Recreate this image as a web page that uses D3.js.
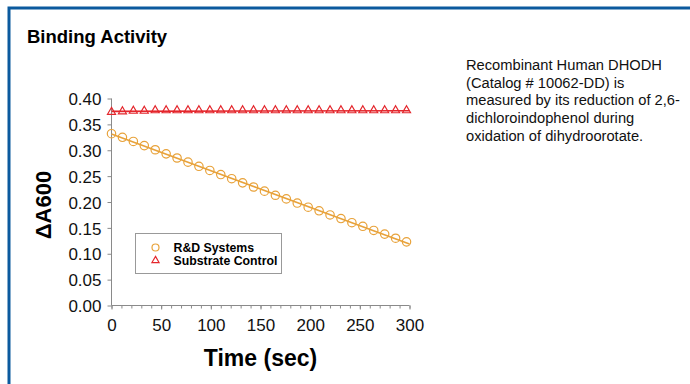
<!DOCTYPE html>
<html>
<head>
<meta charset="utf-8">
<script src="https://cdn.jsdelivr.net/npm/d3@7"></script>
<style>
  html, body { margin: 0; padding: 0; background: #fff; }
  svg { display: block; }
</style>
</head>
<body>
<div id="chart"></div>
<script>
// Time points (sec) and measured absorbance change
const times = [0, 11, 22, 33, 44, 55, 66, 77, 88, 99, 110, 121, 132, 143,
               154, 165, 176, 187, 198, 209, 220, 231, 242, 253, 264, 275, 286, 297];
const rndValues = [0.332, 0.325, 0.317, 0.309, 0.301, 0.293, 0.285, 0.277, 0.269, 0.261,
                   0.253, 0.245, 0.237, 0.229, 0.221, 0.213, 0.206, 0.198, 0.190, 0.183,
                   0.175, 0.168, 0.160, 0.153, 0.145, 0.138, 0.130, 0.123];
const controlValues = [0.373, 0.374, 0.375, 0.375, 0.376, 0.376, 0.376, 0.376, 0.376, 0.376,
                       0.376, 0.376, 0.376, 0.376, 0.376, 0.376, 0.376, 0.376, 0.376, 0.376,
                       0.376, 0.376, 0.376, 0.376, 0.376, 0.376, 0.376, 0.376];
const xTicks = [0, 50, 100, 150, 200, 250, 300];
const yTicks = [0, 0.05, 0.10, 0.15, 0.20, 0.25, 0.30, 0.35, 0.40];
const legendLabels = ['R&D Systems', 'Substrate Control'];
const noteLines = ['Recombinant Human DHODH', '(Catalog # 10062-DD) is',
                   'measured by its reduction of 2,6-', 'dichloroindophenol during',
                   'oxidation of dihydroorotate.'];

const W = 690, H = 384;
const ORANGE = '#e8a23a', RED = '#e4262c', AXIS = '#8a8a8a', FRAME = '#0b5a9e';
const FONT = 'Liberation Sans, Arial, sans-serif';

const svg = d3.select('#chart').append('svg')
  .attr('width', W).attr('height', H);

// blue frame (left + top)
svg.append('path')
  .attr('d', `M9,${H} L9,8 L${W},8`)
  .attr('fill', 'none').attr('stroke', FRAME).attr('stroke-width', 3);

svg.append('text').text('Binding Activity')
  .attr('x', 27).attr('y', 43)
  .attr('font-family', FONT).attr('font-size', 18.5).attr('font-weight', 'bold');

const x = d3.scaleLinear().domain([0, 300]).range([111.5, 409.5]);
const y = d3.scaleLinear().domain([0, 0.40]).range([305.5, 98.5]);

// y axis
const yAxis = svg.append('g').attr('transform', `translate(${x(0)},0)`)
  .call(d3.axisLeft(y).tickValues(yTicks).tickFormat(d3.format('.2f')).tickSize(4).tickPadding(6));
yAxis.select('.domain').attr('stroke', AXIS).attr('d', `M-0,${y(0.40)}V${y(0)}`);
yAxis.selectAll('.tick line').attr('stroke', AXIS);
yAxis.selectAll('.tick text').attr('font-family', FONT).attr('font-size', 17).attr('fill', '#111')
  .attr('dy', '0.36em');

// x axis with minor ticks every 10
const xAxisMinor = svg.append('g').attr('transform', `translate(0,${y(0)})`)
  .call(d3.axisBottom(x).tickValues(d3.range(0, 301, 10)).tickFormat('').tickSize(3));
xAxisMinor.select('.domain').remove();
xAxisMinor.selectAll('.tick line').attr('stroke', AXIS);

const xAxis = svg.append('g').attr('transform', `translate(0,${y(0)})`)
  .call(d3.axisBottom(x).tickValues(xTicks).tickSize(4).tickPadding(9));
xAxis.select('.domain').attr('stroke', AXIS).attr('d', `M${x(0)},0H${x(300)}`);
xAxis.selectAll('.tick line').attr('stroke', AXIS);
xAxis.selectAll('.tick text').attr('font-family', FONT).attr('font-size', 17).attr('fill', '#111');

// axis titles
svg.append('text').text('Time (sec)')
  .attr('x', (x(0) + x(300)) / 2).attr('y', 366).attr('text-anchor', 'middle')
  .attr('font-family', FONT).attr('font-size', 23).attr('font-weight', 'bold');

svg.append('text').text('\u0394A600')
  .attr('transform', 'translate(51,205) rotate(-90)')
  .attr('text-anchor', 'middle')
  .attr('font-family', FONT).attr('font-size', 22).attr('font-weight', 'bold');

// linear fits drawn across the full time range
function fit(xs, ys) {
  const mx = d3.mean(xs), my = d3.mean(ys);
  const sxy = d3.sum(xs, (v, i) => (v - mx) * (ys[i] - my));
  const sxx = d3.sum(xs, v => (v - mx) * (v - mx));
  const b = sxy / sxx;
  return t => my + b * (t - mx);
}
const rndFit = fit(times, rndValues);
const ctlFit = fit(times, controlValues);
const line = d3.line().x(d => x(d[0])).y(d => y(d[1]));

svg.append('path').datum([[0, rndFit(0)], [300, rndFit(300)]])
  .attr('d', line).attr('stroke', ORANGE).attr('stroke-width', 1.6).attr('fill', 'none');
svg.append('path').datum([[0, ctlFit(0)], [300, ctlFit(300)]])
  .attr('d', line).attr('stroke', RED).attr('stroke-width', 1.6).attr('fill', 'none');

const tri = d3.symbol().type(d3.symbolTriangle).size(28);

svg.append('g').selectAll('circle').data(times).join('circle')
  .attr('cx', d => x(d)).attr('cy', (d, i) => y(rndValues[i])).attr('r', 4.2)
  .attr('fill', 'none').attr('stroke', ORANGE).attr('stroke-width', 1.2);

svg.append('g').selectAll('path').data(times).join('path')
  .attr('d', tri)
  .attr('transform', (d, i) => `translate(${x(d)},${y(controlValues[i]) - 0.5})`)
  .attr('fill', 'none').attr('stroke', RED).attr('stroke-width', 1.2);

// legend
const lg = svg.append('g').attr('transform', 'translate(135.5,233.5)');
lg.append('rect').attr('width', 146).attr('height', 40)
  .attr('fill', '#fff').attr('stroke', '#999').attr('stroke-width', 1);
lg.append('circle').attr('cx', 20).attr('cy', 14).attr('r', 3.5)
  .attr('fill', 'none').attr('stroke', ORANGE).attr('stroke-width', 1.2);
lg.append('path').attr('d', d3.symbol().type(d3.symbolTriangle).size(22))
  .attr('transform', 'translate(20,27)')
  .attr('fill', 'none').attr('stroke', RED).attr('stroke-width', 1.2);
lg.selectAll('text').data(legendLabels).join('text').text(d => d)
  .attr('x', 38).attr('y', (d, i) => 18 + i * 13.5)
  .attr('font-family', FONT).attr('font-size', 12.3).attr('font-weight', 'bold');

// description text
svg.append('g').selectAll('text').data(noteLines).join('text').text(d => d)
  .attr('x', 466).attr('y', (d, i) => 70 + i * 17.7)
  .attr('font-family', FONT).attr('font-size', 14.7).attr('fill', '#111');
</script>
</body>
</html>
